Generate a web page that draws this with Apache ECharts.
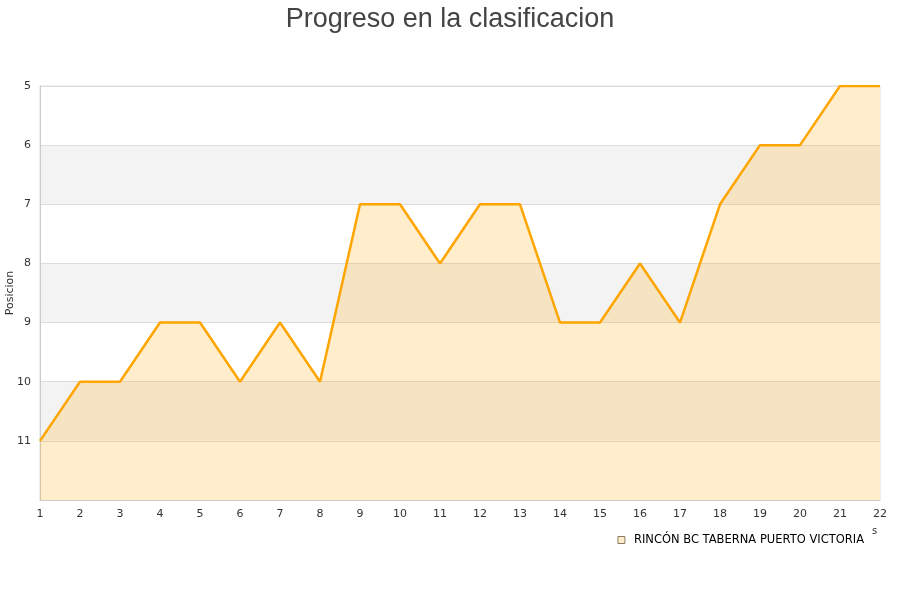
<!DOCTYPE html>
<html>
<head>
<meta charset="utf-8">
<script src="https://cdn.jsdelivr.net/npm/echarts@6/dist/echarts.min.js"></script>
<style>
  html, body { margin: 0; padding: 0; background: #fff; }
  #chart { width: 900px; height: 600px; }
</style>
</head>
<body>
<div id="chart"></div>
<script>
// jornadas
var jornadas = ['1', '2', '3', '4', '5', '6', '7', '8', '9', '10', '11', '12', '13', '14', '15', '16', '17', '18', '19', '20', '21', '22'];
// posicion en cada jornada
var posiciones = [11, 10, 10, 9, 9, 10, 9, 10, 7, 7, 8, 7, 7, 9, 9, 8, 9, 7, 6, 6, 5, 5];
var equipo = 'RINCÓN BC TABERNA PUERTO VICTORIA';

var chart = echarts.init(document.getElementById('chart'));

var option = {
  animation: false,
  title: {
    text: 'Progreso en la clasificacion',
    left: 'center',
    top: 1,
    textStyle: {
      fontFamily: 'Liberation Sans',
      fontSize: 27,
      fontWeight: 'normal',
      color: '#444'
    }
  },
  legend: {
    data: [{
      name: equipo,
      itemStyle: { color: '#FFEECC', borderColor: '#8a7a60', borderWidth: 1 }
    }],
    right: 31,
    top: 529,
    icon: 'rect',
    itemWidth: 7,
    itemHeight: 7,
    itemGap: 10,
    textStyle: { fontFamily: 'DejaVu Sans', fontSize: 11.5, color: '#000', padding: [0, 0, 0, 4] }
  },
  grid: {
    left: 40,
    right: 20,
    top: 86,
    bottom: 100,
    outerBoundsMode: 'none',
    containLabel: false,
    show: true,
    borderColor: '#ddd',
    borderWidth: 1
  },
  xAxis: {
    type: 'category',
    data: jornadas,
    boundaryGap: false,
    axisLine: { lineStyle: { color: '#ccc' } },
    axisTick: { show: false },
    axisLabel: { color: '#333', fontSize: 11, fontFamily: 'DejaVu Sans', margin: 9 }
  },
  yAxis: {
    type: 'value',
    inverse: true,
    min: 5,
    max: 12,
    interval: 1,
    name: 'Posicion',
    nameLocation: 'middle',
    nameGap: 24,
    nameMoveOverlap: false,
    nameTextStyle: { color: '#333', fontSize: 11, fontFamily: 'DejaVu Sans' },
    axisLine: { show: true, lineStyle: { color: '#ccc' } },
    axisTick: { show: false },
    axisLabel: {
      color: '#333',
      fontSize: 11,
      fontFamily: 'DejaVu Sans',
      margin: 9,
      formatter: function (v) { return v === 12 ? '' : v; }
    },
    splitLine: { lineStyle: { color: '#ddd' } },
    splitArea: { show: true, areaStyle: { color: ['#ffffff', '#f3f3f3'] } }
  },
  series: [{
    name: equipo,
    type: 'line',
    data: posiciones,
    symbol: 'none',
    lineStyle: { color: '#FFA500', width: 2.5 },
    areaStyle: { origin: 'end', color: '#FFA500', opacity: 0.2 }
  }],
  graphic: [{
    type: 'text',
    left: 872,
    top: 526,
    style: { text: 's', fontSize: 10, fill: '#333', fontFamily: 'DejaVu Sans' }
  }]
};

chart.setOption(option);
</script>
</body>
</html>
